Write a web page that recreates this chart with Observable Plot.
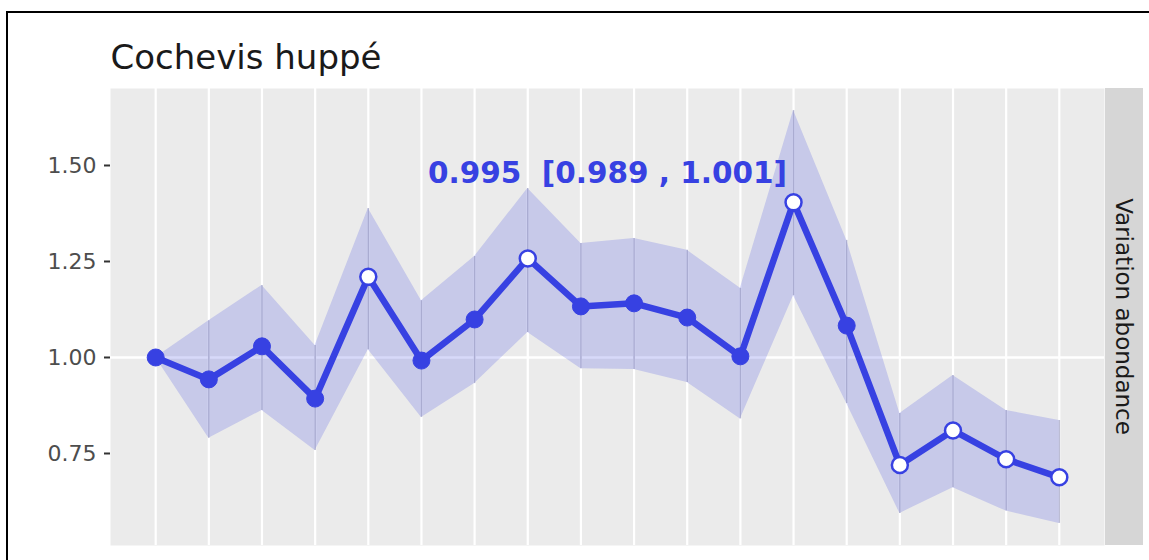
<!DOCTYPE html>
<html>
<head>
<meta charset="utf-8">
<script src="https://cdn.jsdelivr.net/npm/d3@7"></script>
<script src="https://cdn.jsdelivr.net/npm/@observablehq/plot@0.6"></script>
<style>
  html, body { margin: 0; padding: 0; background: #fff; }
  #wrap { position: relative; width: 1149px; height: 560px; overflow: hidden; }
  #wrap svg { position: absolute; left: 0; top: 0; }
  .bt { position: absolute; left: 6px; top: 11px; width: 1143px; height: 2px; background: #000; }
  .bl { position: absolute; left: 6px; top: 11px; width: 2px; height: 549px; background: #000; }
</style>
</head>
<body>
<div id="wrap"><div class="bt"></div><div class="bl"></div></div>
<script>
const titleText = "Cochevis huppé";
const stripText = "Variation abondance";
const years = [2001,2002,2003,2004,2005,2006,2007,2008,2009,2010,2011,2012,2013,2014,2015,2016,2017,2018];
const values = [1.00, 0.943, 1.029, 0.893, 1.21, 0.992, 1.099, 1.258, 1.133, 1.141, 1.104, 1.003, 1.404, 1.083, 0.72, 0.81, 0.735, 0.688];
const lows   = [1.00, 0.79, 0.862, 0.758, 1.02, 0.844, 0.932, 1.065, 0.971, 0.969, 0.935, 0.84, 1.161, 0.88, 0.594, 0.661, 0.60, 0.568];
const highs  = [1.00, 1.096, 1.1875, 1.031, 1.388, 1.148, 1.263, 1.44, 1.297, 1.31, 1.279, 1.18, 1.643, 1.305, 0.854, 0.953, 0.862, 0.836];
const significant = [false,false,false,false,true,false,false,true,false,false,false,false,true,false,true,true,true,true];
const trend = {est: 0.995, lo: 0.989, hi: 1.001};
const yTicks = [0.75, 1.00, 1.25, 1.50];

const data = years.map((y, i) => ({year: y, v: values[i], lo: lows[i], hi: highs[i], sig: significant[i]}));
const blue = "#3741e2";
const fmt = d3.format(".3f");
const label = `${fmt(trend.est)}\u00a0\u00a0[${fmt(trend.lo)} , ${fmt(trend.hi)}]`;
const midYear = (years[0] + years[years.length - 1]) / 2;
const labelY = d3.max(highs) * 0.9;

const plot = Plot.plot({
  width: 1149,
  height: 560,
  marginLeft: 110,
  marginRight: 45,
  marginTop: 88,
  marginBottom: 15,
  style: {fontFamily: "DejaVu Sans", background: "transparent", overflow: "visible"},
  x: {type: "linear", domain: [years[0] - 0.85, years[years.length - 1] + 0.85], axis: null},
  y: {domain: [0.5104, 1.7005]},
  marks: [
    Plot.frame({fill: "#ebebeb", stroke: null}),
    Plot.ruleX(years, {stroke: "#ffffff", strokeWidth: 2.2}),
    Plot.ruleY([1], {stroke: "#ffffff", strokeWidth: 2.6}),
    Plot.areaY(data, {x: "year", y1: "lo", y2: "hi", fill: blue, fillOpacity: 0.2}),
    Plot.ruleX(data, {x: "year", y1: "lo", y2: "hi", stroke: "#8587b0", strokeOpacity: 0.55, strokeWidth: 1.5}),
    Plot.line(data, {x: "year", y: "v", stroke: blue, strokeWidth: 6.5}),
    Plot.dot(data.filter(d => !d.sig), {x: "year", y: "v", r: 8.5, fill: blue, stroke: blue, strokeWidth: 1}),
    Plot.dot(data.filter(d => d.sig), {x: "year", y: "v", r: 8, fill: "#ffffff", stroke: blue, strokeWidth: 2.5}),
    Plot.text([label], {x: midYear, y: labelY, text: d => d, fill: blue, fontSize: 29.5, fontWeight: "bold", textAnchor: "middle"}),
    Plot.axisY({ticks: yTicks, tickFormat: d3.format(".2f"), tickSize: 6, tickPadding: 8, fontSize: 22, fill: "#4d4d4d", stroke: "#333333", strokeWidth: 2, label: null}),
    Plot.text([titleText], {frameAnchor: "top-left", dy: -20, lineAnchor: "bottom", textAnchor: "start", fontSize: 34, fill: "#1a1a1a", text: d => d})
  ]
});

document.getElementById("wrap").appendChild(plot);

// facet strip on the right
const svgSel = d3.select(plot);
const stripX = 1149 - 45 + 1, stripW = 38, panelTop = 88, panelBottom = 560 - 15;
svgSel.append("rect")
  .attr("x", stripX).attr("y", panelTop).attr("width", stripW).attr("height", panelBottom - panelTop)
  .attr("fill", "#d6d6d6");
svgSel.append("text")
  .attr("transform", `translate(${stripX + stripW / 2},${(panelTop + panelBottom) / 2}) rotate(90)`)
  .attr("text-anchor", "middle").attr("dominant-baseline", "central")
  .attr("font-family", "DejaVu Sans").attr("font-size", 23).attr("fill", "#1a1a1a")
  .text(stripText);
</script>
</body>
</html>
